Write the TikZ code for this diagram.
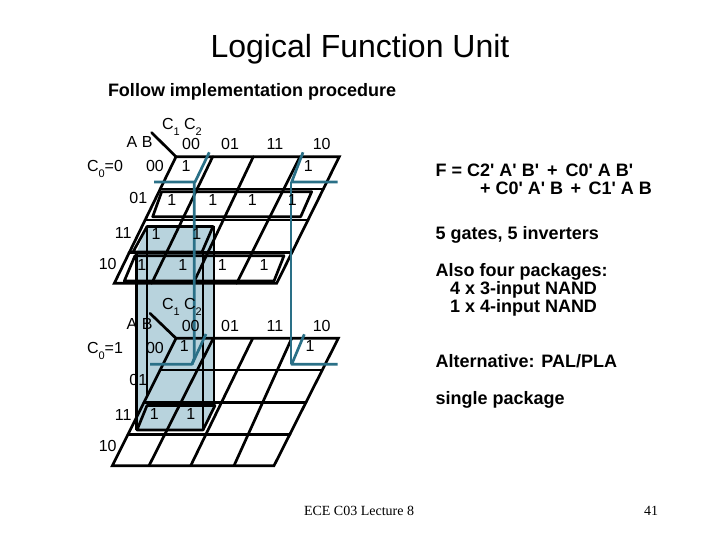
\documentclass[tikz,border=0pt]{standalone}
\usepackage{fontspec}
\setmainfont{Liberation Sans}
\newfontfamily\sansf{Liberation Sans}
\newfontfamily\timesf{Liberation Serif}
\definecolor{volfill}{RGB}{184,211,221}
\definecolor{teal2}{RGB}{42,112,135}
\newcommand{\lowsub}[1]{\raisebox{-.33em}{\fontsize{11}{11}\selectfont #1}}
\tikzset{
  grid/.style={draw=black,line width=2.7pt,line join=miter,line cap=round},
  looped/.style={draw=black,line width=2.7pt,line join=round},
  tealline/.style={draw=teal2,line width=2.7pt,line join=round},
  lbl/.style={inner sep=0pt,outer sep=0pt,text height=11.5pt,text depth=0pt,font=\fontsize{16}{16}\selectfont},
  boldl/.style={inner sep=0pt,outer sep=0pt,anchor=west,text height=13pt,text depth=0pt,font=\fontsize{18}{18}\selectfont\sansf\bfseries},
  foot/.style={inner sep=0pt,outer sep=0pt,text height=9.3pt,text depth=0pt,font=\fontsize{14}{14}\selectfont\timesf},
}
\begin{document}
\begin{tikzpicture}[x=1pt,y=-1pt]
\useasboundingbox (0,0) rectangle (720,540);
% shaded volume
\fill[volfill] (147,226) -- (214,226) -- (215,405) -- (203,430) -- (136,430) -- (136,254) -- cycle;
% top map
\draw[grid] (176,156.7) -- (339.3,156.7) -- (276.7,283.3) -- (114.3,283.3) -- cycle;
\draw[grid] (160,189) -- (323.5,189);
\draw[grid] (145,220) -- (308,220);
\draw[grid] (129,252.3) -- (292,252.3);
\draw[grid] (212.7,156.7) -- (151.7,283.3);
\draw[grid] (253.3,156.7) -- (193.3,283.3);
\draw[grid] (300,156.7) -- (236.7,283.3);
\draw[grid] (151.7,132.7) -- (176,156.7);
% loops of the top map
\draw[looped] (161.7,191.7) -- (311.7,191.7) -- (300.7,216.7) -- (152.7,216.7) -- cycle;
\draw[looped] (135,255.7) -- (284,255.7) -- (274,281) -- (124.3,281) -- cycle;
% bottom map
\draw[grid] (176,338.3) -- (338.3,338.3) -- (274,465.7) -- (112.3,465.7) -- cycle;
\draw[grid] (160,370) -- (322,370);
\draw[grid] (144,402.3) -- (306,402.3);
\draw[grid] (128,434.3) -- (290,434.3);
\draw[grid] (213.3,338.3) -- (149,465.7);
\draw[grid] (252.7,338.3) -- (190.7,465.7);
\draw[grid] (291.7,338.3) -- (234,465.7);
\draw[grid] (150,313.3) -- (176,338.3);
% the volume outline
\draw[looped] (147,226.5) -- (213,226.5) -- (202,252) -- (133,252) -- cycle;
\draw[looped] (147,405.5) -- (215,405.5) -- (203,430) -- (137,430) -- cycle;
\draw[looped] (136.5,254) -- (136.5,430);
\draw[looped] (147,226) -- (147,397);
\draw[looped] (203,254) -- (203,430);
\draw[looped] (214,226) -- (214,405);
% teal groups
\draw[tealline] (154,182) -- (195,182) -- (209.3,152.3);
\draw[tealline] (194.3,182) -- (194.3,358) -- (192,364.3) -- (150,364.3);
\draw[tealline] (192,364.3) -- (206,334);
\draw[tealline] (337.7,182) -- (291.7,182) -- (303,152.3);
\draw[tealline] (291,182) -- (291,364.3);
\draw[tealline] (337.7,364.3) -- (291.7,364.3) -- (304.3,334.3);
% titles
\node[lbl,font=\fontsize{32}{32}\selectfont,text height=23pt] (title) at (360,46) {Logical Function Unit};
\node[boldl] (follow) at (108,90) {Follow implementation procedure};
% top map labels
\node[lbl,anchor=west] (c12a) at (162,124) {C\lowsub{1} C\lowsub{2}};
\node[lbl,anchor=west] (aba) at (126.7,142) {A B};
\node[lbl] (ca1) at (191,144) {00};
\node[lbl] (ca2) at (230,144) {01};
\node[lbl] (ca3) at (275,144) {11};
\node[lbl] (ca4) at (321.7,144) {10};
\node[lbl,anchor=west] (c0a) at (87,166) {C\lowsub{0}=0};
\node[lbl] (ra1) at (155,166) {00};
\node[lbl] (ra2) at (138.3,198) {01};
\node[lbl] (ra3) at (123.3,232.7) {11};
\node[lbl] (ra4) at (107.7,264) {10};
\node[lbl] (a1) at (186,166) {1};
\node[lbl] (a2) at (308.3,166) {1};
\node[lbl] (a3) at (171.7,200) {1};
\node[lbl] (a4) at (212.7,200) {1};
\node[lbl] (a5) at (252.3,200) {1};
\node[lbl] (a6) at (292.3,200) {1};
\node[lbl] (a7) at (156,234) {1};
\node[lbl] (a8) at (196.7,234) {1};
\node[lbl] (a9) at (141.7,264.7) {1};
\node[lbl] (a10) at (182.7,264.7) {1};
\node[lbl] (a11) at (222.3,264.7) {1};
\node[lbl] (a12) at (264,264.7) {1};
% bottom map labels
\node[lbl,anchor=west] (c12b) at (162,304) {C\lowsub{1} C\lowsub{2}};
\node[lbl,anchor=west] (abb) at (126.7,324) {A B};
\node[lbl] (cb1) at (190.7,325.7) {00};
\node[lbl] (cb2) at (230,325.7) {01};
\node[lbl] (cb3) at (275,325.7) {11};
\node[lbl] (cb4) at (321.7,325.7) {10};
\node[lbl,anchor=west] (c0b) at (87,348) {C\lowsub{0}=1};
\node[lbl] (rb1) at (155,348) {00};
\node[lbl] (rb2) at (138.3,380) {01};
\node[lbl] (rb3) at (123.3,414.3) {11};
\node[lbl] (rb4) at (107.7,445.7) {10};
\node[lbl] (b1) at (184.3,346) {1};
\node[lbl] (b2) at (310,346) {1};
\node[lbl] (b3) at (154.3,414) {1};
\node[lbl] (b4) at (190.7,414) {1};
% right column
\node[boldl] (f1) at (435.7,170) {F = C2' A' B'\ \kern3pt+\ \kern3pt C0' A B'};
\node[boldl] (f2) at (480,188) {+ C0' A' B\ \kern2.5pt+\ \kern2.5pt C1' A B};
\node[boldl] (g) at (435.7,232.7) {5 gates, 5 inverters};
\node[boldl] (p1) at (435.7,270) {Also four packages:};
\node[boldl] (p2) at (450,288) {4 x 3-input NAND};
\node[boldl] (p3) at (450,306) {1 x 4-input NAND};
\node[boldl] (alt) at (435.7,361) {Alternative: PAL/PLA};
\node[boldl] (sp) at (435.7,398) {single package};
% footer
\node[foot,anchor=west] (lec) at (304,511) {ECE C03 Lecture 8};
\node[foot] (pg) at (651,511) {41};
\end{tikzpicture}
\end{document}
